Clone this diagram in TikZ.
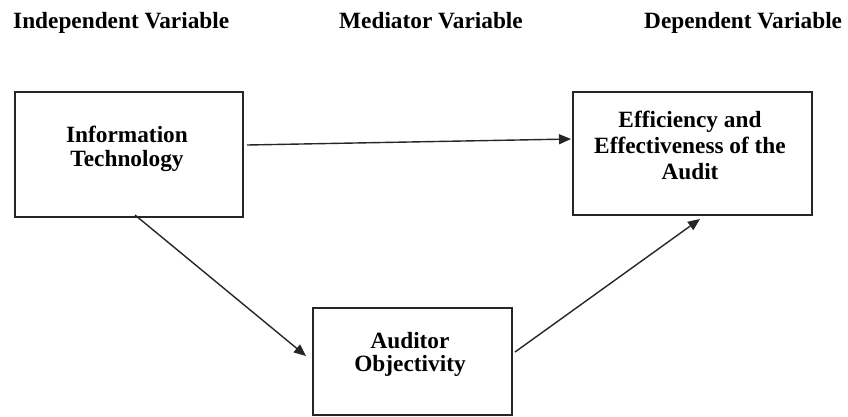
\documentclass[tikz,border=0pt]{standalone}
\usepackage{fontspec}
\setmainfont{Liberation Serif}
\usetikzlibrary{arrows.meta}
\begin{document}
\begin{tikzpicture}[x=1pt,y=-1pt,
  txt/.style={font=\bfseries\fontsize{23.3}{26}\selectfont, inner sep=0pt, anchor=base},
  hdr/.style={font=\bfseries\fontsize{23.3}{26}\selectfont, inner sep=0pt, anchor=base west},
  box/.style={draw=black!85, line width=1.5pt},
  conn/.style={draw=black!85, line width=1.4pt, -{Triangle[length=12pt,width=10pt]}}]
\useasboundingbox (0,0) rectangle (848,416);
% headers
\node[hdr] (h1) at (13,28) {Independent Variable};
\node[hdr] (h2) at (339,28) {Mediator Variable};
\node[hdr] (h3) at (644,28) {Dependent Variable};
% boxes
\node[box, minimum width=228pt, minimum height=125pt, anchor=north west, inner sep=0pt] (it) at (14,91) {};
\node[box, minimum width=239pt, minimum height=123pt, anchor=north west, inner sep=0pt] (eea) at (572,91) {};
\node[box, minimum width=199pt, minimum height=107pt, anchor=north west, inner sep=0pt] (ao) at (312,307) {};
% box texts
\node[txt] (it1) at (127,142) {Information};
\node[txt] (it2) at (127,166) {Technology};
\node[txt] (e1) at (690,127) {Efficiency and};
\node[txt] (e2) at (690,153.3) {Effectiveness of the};
\node[txt] (e3) at (690,179.3) {Audit};
\node[txt] (a1) at (410,348) {Auditor};
\node[txt] (a2) at (410,371.7) {Objectivity};
% connector ends
\coordinate (c1s) at (247,145);
\coordinate (c1e) at (571,139);
\coordinate (c2s) at (135,215);
\coordinate (c2e) at (306,356);
\coordinate (c3s) at (515,352);
\coordinate (c3e) at (700,219);
\draw[conn] (c1s) -- (c1e);
\draw[conn] (c2s) -- (c2e);
\draw[conn] (c3s) -- (c3e);
\end{tikzpicture}
\end{document}
